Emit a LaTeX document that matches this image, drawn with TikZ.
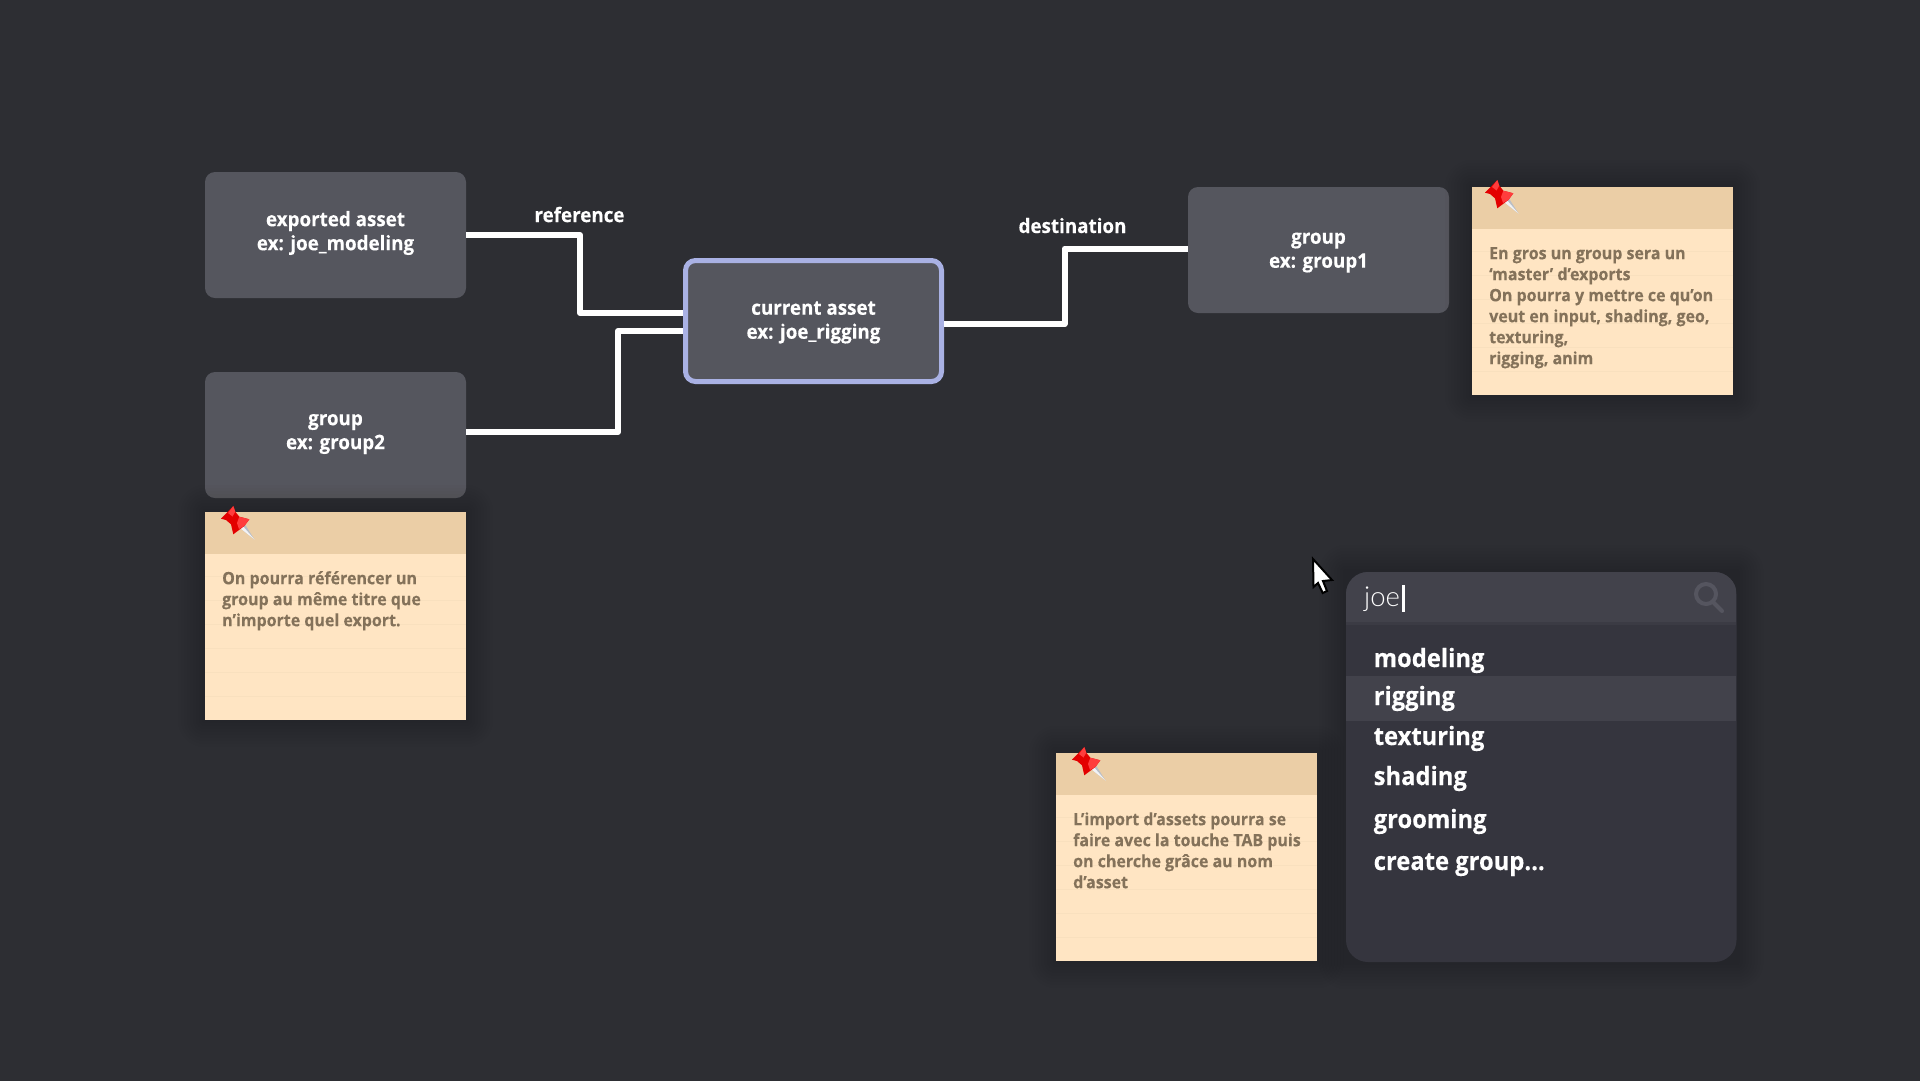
\documentclass[tikz,border=0pt]{standalone}
\usepackage{fontspec}
\usetikzlibrary{calc}
\setmainfont{Open Sans}[FakeStretch=0.94,BoldFeatures={FakeBold=0.2}]
\newfontfamily\lightfont{Lato Light}
\definecolor{bgc}{HTML}{2D2E33}
\definecolor{boxc}{HTML}{55565E}
\definecolor{curb}{HTML}{A9B1E4}
\definecolor{noteb}{HTML}{FFE5C3}
\definecolor{noteh}{HTML}{EBCEA6}
\definecolor{notet}{HTML}{84725A}
\definecolor{notel}{HTML}{F9E0BE}
\definecolor{panelc}{HTML}{35353E}
\definecolor{panelh}{HTML}{42424B}
\definecolor{panels}{HTML}{3B3B44}
\definecolor{iconc}{HTML}{55555F}
\definecolor{pindark}{HTML}{E30000}
\definecolor{pinlight}{HTML}{FF3D3D}
\definecolor{needleg}{HTML}{B9BEC6}
\definecolor{needlew}{HTML}{F2F3F5}
\tikzset{
  assetbox/.style={fill=boxc,rounded corners=10pt,minimum width=261pt,minimum height=126pt,inner sep=0pt,outer sep=0pt,text=white,align=center,font=\fontsize{20}{24}\selectfont\bfseries},
  curbox/.style={assetbox,draw=curb,line width=5pt,minimum width=256pt,minimum height=121pt,outer sep=2.5pt},
  wire/.style={draw=white,line width=6pt,line join=round},
  wirelabel/.style={text=white,inner sep=0pt,font=\fontsize{20}{24}\selectfont\bfseries},
  notebody/.style={fill=noteb,minimum width=261pt,minimum height=208pt,inner sep=0pt,outer sep=0pt,anchor=north west},
  notehead/.style={fill=noteh},
  notetext/.style={text=notet,anchor=north west,inner sep=0pt,align=left,font=\fontsize{17}{21}\selectfont\bfseries},
  noteline/.style={draw=notel,line width=1pt},
  item/.style={text=white,anchor=base west,inner sep=0pt,font=\fontsize{25.3}{30}\selectfont\bfseries},
}
\newcommand{\softshadow}[4]{%
  \foreach \r in {3,6,...,27}{\fill[black,opacity=0.012,rounded corners=\r pt] (#1-\r,#2-\r) rectangle (#3+\r,#4+\r);}}
\newcommand{\twolines}[3]{\rule{0pt}{#1pt}#2\\#3\rule[-13pt]{0pt}{13pt}}
\newcommand{\stickynote}[6]{%
  \softshadow{#2}{#3}{#2+261}{#3+208}
  \node[notebody] (#1) at (#2,#3) {};
  \fill[notehead] (#2,#3) rectangle ++(261,42);
  \foreach \k in {0,...,5}{\draw[noteline] (#2,#3+64+24*\k) -- ++(261,0);}
  \node[notetext] (#1text) at (#2+17,#3+57.3) {\strut #4};
  \begin{scope}[shift={(#2+#5,#3+#6)}]
    \fill[needleg] (32,15) -- (37,11.5) -- (46.5,26.5) -- cycle;
    \fill[needlew] (32,15) -- (34.8,13) -- (46.5,26.5) -- cycle;
    \fill[pindark] (25.3,-7) -- (27.3,-1.3) -- (31.3,3.7) -- (41.3,6.3) -- (36.3,13) -- (25.3,21.3) -- (23,11.3) -- (18,7) -- (13,5.7) -- cycle;
    \fill[pinlight] (25.3,-7) -- (27.3,-1.3) -- (24.5,3.5) -- (20,0) -- cycle;
    \fill[pinlight] (31.3,3.7) -- (41.3,6.3) -- (36.3,13) -- (31,16) -- (29,10) -- cycle;
  \end{scope}
}
\begin{document}
\begin{tikzpicture}[x=1pt,y=-1pt]
\useasboundingbox (0,0) rectangle (1920,1080);
\fill[bgc] (-3,-3) rectangle (1923,1083);
\node[assetbox] (exported) at (335.5,235) {\twolines{19.4}{exported asset}{ex: joe\_modeling}};
\node[assetbox] (grouptwo) at (335.5,435) {\twolines{17.4}{group}{ex: group2}};
\node[curbox] (current) at (813.5,321) {\twolines{24.4}{current asset}{ex: joe\_rigging}};
\node[assetbox] (groupone) at (1318.5,250) {\twolines{24.4}{group}{ex: group1}};
\draw[wire] (exported.east) -- (580,235) |- ([yshift=8pt]current.west);
\draw[wire] ([yshift=3pt]grouptwo.east) -- (618,432) |- ([yshift=-10pt]current.west);
\draw[wire] ([yshift=-3pt]current.east) -- (1064.5,324) |- ([yshift=1.5pt]groupone.west);
\node[wirelabel] (reflabel) at (579.5,214.5) {reference};
\node[wirelabel] (destlabel) at (1072.5,225.5) {destination};

\stickynote{noteone}{1472}{187}{En gros un group sera un\\‘master’ d’exports\\On pourra y mettre ce qu’on\\veut en input, shading, geo,\\texturing,\\rigging, anim}{0}{0}
\stickynote{notetwo}{205}{512}{On pourra référencer un\\group au même titre que\\n’importe quel export.}{3}{1}
\stickynote{notethree}{1056}{753}{L’import d’assets pourra se\\faire avec la touche TAB puis\\on cherche grâce au nom\\d’asset}{3}{1}

% search panel
\softshadow{1346}{572}{1736.5}{962}
\fill[panelc,rounded corners=22pt] (1346,572) rectangle (1736.5,962);
\begin{scope}
  \clip[rounded corners=22pt] (1346,572) rectangle (1736.5,962);
  \fill[panelh] (1346,572) rectangle (1736.5,622);
  \fill[panels] (1346,622) rectangle (1736.5,625);
  \fill[panelh] (1346,676) rectangle (1736.5,721);
\end{scope}
\node[text=white,anchor=base west,inner sep=0pt,font=\fontsize{27.5}{32}\lightfont] (query) at (1364,606) {joe};
\fill[white] (1402,585) rectangle (1404.5,612);
\draw[iconc,line width=4pt] (1706,594) circle (10pt);
\draw[iconc,line width=4pt,line cap=round] (1713,602) -- (1722,611);
\node[item] (m1) at (1373.5,667) {modeling};
\node[item] (m2) at (1373.5,705) {rigging};
\node[item] (m3) at (1373.5,745) {texturing};
\node[item] (m4) at (1373.5,785) {shading};
\node[item] (m5) at (1373.5,828) {grooming};
\node[item] (m6) at (1373.5,870) {create group...};

% mouse cursor
\draw[black,fill=white,line width=2pt,line join=miter] (1313,559) -- (1313.5,587) -- (1318,583) -- (1322.7,593) -- (1327,591) -- (1323,581) -- (1332,580) -- cycle;
\end{tikzpicture}
\end{document}
